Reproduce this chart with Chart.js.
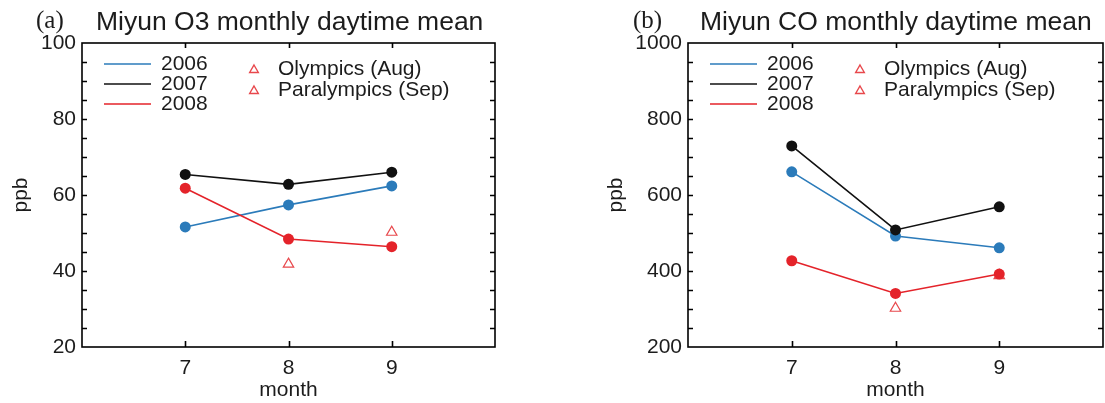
<!DOCTYPE html>
<html>
<head>
<meta charset="utf-8">
<script src="https://cdn.jsdelivr.net/npm/chart.js@4/dist/chart.umd.min.js"></script>
<style>
    html, body { margin: 0; padding: 0; background: #fff; }
    body { width: 1105px; height: 403px; position: relative; overflow: hidden; }
    .panel { position: absolute; top: 0; height: 403px; }
    #panelA { left: 0; width: 520px; }
    #panelB { left: 595px; width: 510px; }
</style>
</head>
<body>
<div class="panel" id="panelA"><canvas id="chartO3"></canvas></div>
<div class="panel" id="panelB"><canvas id="chartCO"></canvas></div>
<script>
(function () {
    'use strict';

    // data
    const months = [7, 8, 9];
    const yearLabels = ['2006', '2007', '2008'];

    const o3_2006 = [51.6, 57.4, 62.4];
    const o3_2007 = [65.4, 62.8, 66.0];
    const o3_2008 = [61.8, 48.4, 46.4];
    const o3Olympics = [41.8];     // Aug
    const o3Paralympics = [50.2];  // Sep

    const co_2006 = [661, 492, 461];
    const co_2007 = [729, 508, 569];
    const co_2008 = [427, 341, 392];
    const coOlympics = [302];
    const coParalympics = [388];

    const o3Ticks = [20, 40, 60, 80, 100];
    const coTicks = [200, 400, 600, 800, 1000];

    const BLUE = '#2b7bba';
    const BLACK = '#111111';
    const RED = '#e4232a';
    const TRI = '#e8484c';
    const TEXT = '#1c1c1c';
    const SANS = '"Liberation Sans", Arial, Helvetica, sans-serif';

    function pts(xs, ys) {
        return ys.map(function (y, i) { return { x: xs[i], y: y }; });
    }

    function lineSet(label, values, color) {
        return {
            label: label,
            data: pts(months, values),
            borderColor: color,
            backgroundColor: color,
            borderWidth: 1.6,
            pointRadius: 5.5,
            pointBorderWidth: 0,
            pointBackgroundColor: color,
            tension: 0
        };
    }

    function triSet(label, month, values) {
        return {
            label: label,
            data: pts([month], values),
            showLine: false,
            pointStyle: 'triangle',
            pointRadius: 6,
            pointBorderWidth: 1.2,
            pointBorderColor: TRI,
            pointBackgroundColor: 'rgba(255,255,255,0)'
        };
    }

    const framePlugin = {
        id: 'frame',
        beforeDatasetsDraw: function (chart, args, opts) {
            const ctx = chart.ctx;
            const a = chart.chartArea;
            const xs = chart.scales.x;
            const ys = chart.scales.y;
            ctx.save();
            ctx.strokeStyle = '#000';
            ctx.lineWidth = 1.6;
            ctx.strokeRect(a.left, a.top, a.right - a.left, a.bottom - a.top);
            ctx.beginPath();
            months.forEach(function (m) {
                const px = Math.round(xs.getPixelForValue(m)) + 0.5;
                ctx.moveTo(px, a.bottom);
                ctx.lineTo(px, a.bottom - 6);
                ctx.moveTo(px, a.top);
                ctx.lineTo(px, a.top + 5);
            });
            for (let v = ys.min + opts.minorStep; v < ys.max; v += opts.minorStep) {
                const py = Math.round(ys.getPixelForValue(v)) + 0.5;
                ctx.moveTo(a.left, py);
                ctx.lineTo(a.left + 5, py);
                ctx.moveTo(a.right, py);
                ctx.lineTo(a.right - 5, py);
            }
            ctx.stroke();
            ctx.restore();
        },
        afterDraw: function (chart, args, opts) {
            const ctx = chart.ctx;
            const a = chart.chartArea;
            ctx.save();
            ctx.fillStyle = TEXT;
            ctx.textBaseline = 'middle';
            ctx.textAlign = 'left';

            ctx.font = '25px "Liberation Serif", "Times New Roman", serif';
            ctx.fillText(opts.tag, opts.tagX, 21);
            ctx.font = '26.5px ' + SANS;
            ctx.fillText(opts.title, a.left + opts.titleDx, 23);

            // legend
            const colors = [BLUE, BLACK, RED];
            const rows = [a.top + 21, a.top + 41, a.top + 61];
            ctx.font = '21px ' + SANS;
            yearLabels.forEach(function (lab, i) {
                ctx.strokeStyle = colors[i];
                ctx.lineWidth = 1.4;
                ctx.beginPath();
                ctx.moveTo(a.left + 22, rows[i]);
                ctx.lineTo(a.left + 69, rows[i]);
                ctx.stroke();
                ctx.fillText(lab, a.left + 79, rows[i]);
            });
            const eventLabels = ['Olympics (Aug)', 'Paralympics (Sep)'];
            const eRows = [a.top + 26, a.top + 47];
            eventLabels.forEach(function (lab, i) {
                ctx.strokeStyle = TRI;
                ctx.fillStyle = '#fff';
                Chart.helpers.drawPoint(ctx, { pointStyle: 'triangle', radius: 5, rotation: 0, borderWidth: 1.3 }, a.left + 172, eRows[i] + 1);
                ctx.fillStyle = TEXT;
                ctx.fillText(lab, a.left + 196, eRows[i]);
            });
            ctx.restore();
        }
    };

    function buildChart(id, cfg) {
        const font = { family: SANS, size: 21 };
        return new Chart(document.getElementById(id), {
            type: 'line',
            data: {
                datasets: [
                    lineSet('2008', cfg.y2008, RED),
                    lineSet('2007', cfg.y2007, BLACK),
                    lineSet('2006', cfg.y2006, BLUE),
                    triSet('Olympics (Aug)', 8, cfg.olympics),
                    triSet('Paralympics (Sep)', 9, cfg.paralympics)
                ]
            },
            options: {
                responsive: true,
                maintainAspectRatio: false,
                animation: false,
                events: [],
                layout: { autoPadding: false, padding: { top: 43, right: cfg.padRight, left: 0, bottom: 0 } },
                plugins: {
                    legend: { display: false },
                    tooltip: { enabled: false },
                    frame: cfg.frame
                },
                scales: {
                    x: {
                        type: 'linear',
                        min: 6,
                        max: 10,
                        afterBuildTicks: function (s) { s.ticks = months.map(function (m) { return { value: m }; }); },
                        grid: { display: false, drawTicks: false },
                        border: { display: false },
                        ticks: { padding: 9, font: font, color: TEXT },
                        title: { display: true, text: 'month', font: font, color: TEXT, padding: { top: 0, bottom: 0 } },
                        afterFit: function (s) { s.height = 56; }
                    },
                    y: {
                        type: 'linear',
                        min: cfg.ticks[0],
                        max: cfg.ticks[cfg.ticks.length - 1],
                        afterBuildTicks: function (s) { s.ticks = cfg.ticks.map(function (v) { return { value: v }; }); },
                        grid: { display: false, drawTicks: false },
                        border: { display: false },
                        ticks: { padding: 6, font: font, color: TEXT, callback: function (v) { return String(v); } },
                        title: { display: true, text: 'ppb', font: font, color: TEXT, padding: { top: 9, bottom: 0 } },
                        afterFit: function (s) { s.width = cfg.axisWidth; }
                    }
                }
            },
            plugins: [framePlugin]
        });
    }

    buildChart('chartO3', {
        y2006: o3_2006, y2007: o3_2007, y2008: o3_2008,
        olympics: o3Olympics, paralympics: o3Paralympics,
        ticks: o3Ticks, padRight: 25, axisWidth: 82,
        frame: { tag: '(a)', tagX: 36, title: 'Miyun O3 monthly daytime mean', titleDx: 14, minorStep: 5 }
    });

    buildChart('chartCO', {
        y2006: co_2006, y2007: co_2007, y2008: co_2008,
        olympics: coOlympics, paralympics: coParalympics,
        ticks: coTicks, padRight: 2, axisWidth: 93,
        frame: { tag: '(b)', tagX: 38, title: 'Miyun CO monthly daytime mean', titleDx: 12, minorStep: 50 }
    });
})();
</script>
</body>
</html>
